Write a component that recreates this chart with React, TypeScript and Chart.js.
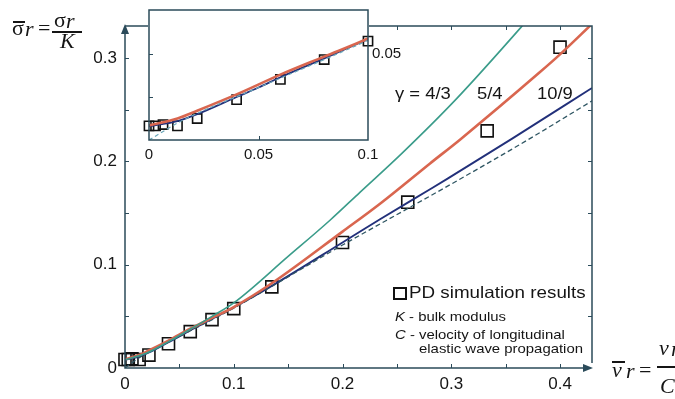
import React, { useEffect, useRef } from "react";
import { Chart, registerables } from "chart.js";

Chart.register(...registerables);

// ---- data ----
const pdX = [0, 0.003, 0.0064, 0.013, 0.022, 0.04, 0.06, 0.08, 0.1, 0.135, 0.2, 0.26, 0.333, 0.4];
const pdY = [0.0082, 0.0082, 0.009, 0.0082, 0.0125, 0.0235, 0.0352, 0.0468, 0.0575, 0.0785, 0.1215, 0.1605, 0.2295, 0.3105];

const green43X = [0, 0.02, 0.04, 0.06, 0.08, 0.1, 0.15, 0.1885, 0.216, 0.2529, 0.3034, 0.366, 0.375];
const green43Y = [0.008, 0.0145, 0.0255, 0.0375, 0.05, 0.063, 0.108, 0.143, 0.17, 0.206, 0.259, 0.332, 0.343];

const red54X = [0, 0.013, 0.022, 0.04, 0.06, 0.08, 0.1, 0.135, 0.2, 0.2345, 0.2805, 0.308, 0.3816, 0.4, 0.4294];
const red54Y = [0.0085, 0.0125, 0.017, 0.0265, 0.038, 0.0485, 0.059, 0.082, 0.132, 0.159, 0.198, 0.221, 0.2864, 0.3035, 0.333];

const blue109X = [0, 0.006, 0.013, 0.022, 0.04, 0.05, 0.06, 0.08, 0.1, 0.135, 0.2, 0.2345, 0.2805, 0.297, 0.356, 0.4294];
const blue109Y = [0.008, 0.0092, 0.011, 0.015, 0.025, 0.0305, 0.0365, 0.0475, 0.0587, 0.0795, 0.1215, 0.144, 0.173, 0.1835, 0.222, 0.271];

const dashedX = [0, 0.015, 0.05, 0.1, 0.2, 0.2645, 0.306, 0.3697, 0.4294];
const dashedY = [0, 0.0112, 0.0305, 0.058, 0.119, 0.157, 0.1816, 0.2204, 0.2585];

const mainXTicks = [0, 0.1, 0.2, 0.3, 0.4];
const mainYTicks = [0, 0.1, 0.2, 0.3];
const mainMinorX = [0.05, 0.1, 0.15, 0.2, 0.25, 0.3, 0.35, 0.4];
const mainMinorY = [0.05, 0.1, 0.15, 0.2, 0.25, 0.3];

const insetXTicks = [0, 0.05, 0.1];
const insetYTicks = [0.05];
const insetMinorX = [0.05];
const insetMinorY = [0.025, 0.05];

// ---- styles ----
const AXIS = "#2b4b5a";
const TXT = "#151515";
const SANS = "'Liberation Sans', Arial, Helvetica, sans-serif";
const SERIF = "'Liberation Serif', 'Times New Roman', serif";
const GREEN = "#3a9c8a";
const RED = "#d9664f";
const BLUE = "#22307a";
const DASH = "#2f5663";

Chart.defaults.font.family = SANS;

const pts = (xs: number[], ys: number[]) => xs.map((x, i) => ({ x, y: ys[i] }));

const lineDs = (xs: number[], ys: number[], color: string, width: number, dash: number[] = []) => ({
  data: pts(xs, ys),
  showLine: true,
  borderColor: color,
  borderWidth: width,
  borderDash: dash,
  pointRadius: 0,
  cubicInterpolationMode: "monotone",
  clip: 0,
});

const squaresDs = (radius: number, maxX: number) => ({
  data: pts(pdX, pdY).filter((p) => p.x <= maxX),
  showLine: false,
  pointStyle: "rect",
  pointRadius: radius,
  pointBorderColor: "#111",
  pointBorderWidth: 1.6,
  pointBackgroundColor: "rgba(0,0,0,0)",
  clip: false,
});

const fixTicks = (vals: number[]) => (s: any) => {
  s.ticks = vals.map((v) => ({ value: v }));
};

const fitX = (h: number) => (s: any) => {
  s.height = h;
  s.paddingLeft = 0;
  s.paddingRight = 0;
};
const fitY = (w: number) => (s: any) => {
  s.width = w;
  s.paddingTop = 0;
  s.paddingBottom = 0;
};

const mainFrame = {
  id: "mainFrame",
  afterDraw(chart: any) {
    const { ctx, chartArea: a, scales } = chart;
    const xs = scales.x;
    const ys = scales.y;
    ctx.save();
    ctx.strokeStyle = AXIS;
    ctx.fillStyle = AXIS;
    ctx.lineWidth = 1.5;
    ctx.beginPath();
    ctx.moveTo(a.left, a.top + 4);
    ctx.lineTo(a.left, a.bottom);
    ctx.lineTo(a.right - 4, a.bottom);
    ctx.moveTo(a.left, a.top);
    ctx.lineTo(a.right, a.top);
    ctx.lineTo(a.right, a.bottom - 5);
    ctx.stroke();
    ctx.lineWidth = 1;
    ctx.beginPath();
    for (const v of mainMinorX) {
      const p = Math.round(xs.getPixelForValue(v)) + 0.5;
      ctx.moveTo(p, a.bottom);
      ctx.lineTo(p, a.bottom - 4);
      ctx.moveTo(p, a.top);
      ctx.lineTo(p, a.top + 4);
    }
    for (const v of mainMinorY) {
      const p = Math.round(ys.getPixelForValue(v)) + 0.5;
      ctx.moveTo(a.left, p);
      ctx.lineTo(a.left + 4, p);
      ctx.moveTo(a.right, p);
      ctx.lineTo(a.right - 4, p);
    }
    ctx.stroke();
    // arrows
    ctx.beginPath();
    ctx.moveTo(a.left, a.top - 2);
    ctx.lineTo(a.left - 4, a.top + 8);
    ctx.lineTo(a.left + 4, a.top + 8);
    ctx.closePath();
    ctx.fill();
    ctx.beginPath();
    ctx.moveTo(a.right + 1, a.bottom);
    ctx.lineTo(a.right - 9, a.bottom - 4);
    ctx.lineTo(a.right - 9, a.bottom + 4);
    ctx.closePath();
    ctx.fill();
    ctx.restore();
  },
};

const insetFrame = {
  id: "insetFrame",
  beforeDatasetsDraw(chart: any) {
    const { ctx, chartArea: a } = chart;
    ctx.save();
    ctx.fillStyle = "#ffffff";
    ctx.fillRect(a.left - 1, a.top - 1, a.right - a.left + 2, a.bottom - a.top + 2);
    ctx.restore();
  },
  afterDraw(chart: any) {
    const { ctx, chartArea: a, scales } = chart;
    ctx.save();
    ctx.strokeStyle = AXIS;
    ctx.lineWidth = 1.5;
    ctx.strokeRect(a.left, a.top, a.right - a.left, a.bottom - a.top);
    ctx.lineWidth = 1;
    ctx.beginPath();
    for (const v of insetMinorX) {
      const p = Math.round(scales.x.getPixelForValue(v)) + 0.5;
      ctx.moveTo(p, a.bottom);
      ctx.lineTo(p, a.bottom - 4);
    }
    for (const v of insetMinorY) {
      const p = Math.round(scales.y.getPixelForValue(v)) + 0.5;
      ctx.moveTo(a.left, p);
      ctx.lineTo(a.left + 4, p);
    }
    ctx.stroke();
    ctx.restore();
  },
};

function mainConfig(): any {
  return {
    type: "scatter",
    data: {
      datasets: [
        lineDs(green43X, green43Y, GREEN, 1.6),
        lineDs(red54X, red54Y, RED, 2.6),
        lineDs(dashedX, dashedY, DASH, 1.3, [5, 3]),
        lineDs(blue109X, blue109Y, BLUE, 1.9),
        squaresDs(8.5, 1),
      ],
    },
    options: {
      responsive: false,
      animation: false,
      devicePixelRatio: 1,
      events: [],
      layout: { padding: { left: 0, top: 26, right: 83, bottom: 0 } },
      plugins: { legend: { display: false }, tooltip: { enabled: false } },
      scales: {
        x: {
          type: "linear",
          min: 0,
          max: 0.4294,
          afterBuildTicks: fixTicks(mainXTicks),
          afterFit: fitX(31),
          grid: { display: false, drawTicks: false },
          border: { display: false },
          ticks: { font: { size: 17 }, color: TXT, padding: 6, maxRotation: 0, autoSkip: false, callback: (v: any) => String(v) },
        },
        y: {
          type: "linear",
          min: 0,
          max: 0.331,
          afterBuildTicks: fixTicks(mainYTicks),
          afterFit: fitY(125),
          grid: { display: false, drawTicks: false },
          border: { display: false },
          ticks: { font: { size: 17 }, color: TXT, padding: 8, autoSkip: false, callback: (v: any) => String(v) },
        },
      },
    },
    plugins: [mainFrame],
  };
}

function insetConfig(): any {
  return {
    type: "scatter",
    data: {
      datasets: [
        lineDs(dashedX, dashedY, "#6aa6b8", 1.2, [4, 3]),
        lineDs(red54X, red54Y, RED, 2.6),
        lineDs(blue109X, blue109Y, BLUE, 1.8),
        squaresDs(6.5, 0.1001),
      ],
    },
    options: {
      responsive: false,
      animation: false,
      devicePixelRatio: 1,
      events: [],
      layout: { padding: { left: 29, top: 10, right: 0, bottom: 0 } },
      plugins: { legend: { display: false }, tooltip: { enabled: false } },
      scales: {
        x: {
          type: "linear",
          min: 0,
          max: 0.1,
          afterBuildTicks: fixTicks(insetXTicks),
          afterFit: fitX(30),
          grid: { display: false, drawTicks: false },
          border: { display: false },
          ticks: { font: { size: 15 }, color: TXT, padding: 6, maxRotation: 0, autoSkip: false, callback: (v: any) => String(v) },
        },
        y: {
          type: "linear",
          position: "right",
          min: 0,
          max: 0.0756,
          afterBuildTicks: fixTicks(insetYTicks),
          afterFit: fitY(42),
          grid: { display: false, drawTicks: false },
          border: { display: false },
          ticks: { font: { size: 15 }, color: TXT, padding: 4, autoSkip: false, callback: (v: any) => String(v) },
        },
      },
    },
    plugins: [insetFrame],
  };
}

type TProps = {
  x: number;
  base: number;
  size: number;
  serif?: boolean;
  italic?: boolean;
  sx?: number;
  children: React.ReactNode;
};

function T({ x, base, size, serif, italic, sx, children }: TProps) {
  const k = serif ? 0.8375 : 0.8465;
  return (
    <div
      style={{
        position: "absolute",
        left: x,
        top: base - k * size,
        fontFamily: serif ? SERIF : SANS,
        fontSize: size,
        lineHeight: 1,
        fontStyle: italic ? "italic" : "normal",
        color: TXT,
        whiteSpace: "nowrap",
        transform: sx ? `scaleX(${sx})` : undefined,
        transformOrigin: "left center",
      }}
    >
      {children}
    </div>
  );
}

function Bar({ x, y, w }: { x: number; y: number; w: number }) {
  return <div style={{ position: "absolute", left: x, top: y, width: w, height: 1.5, background: TXT }} />;
}

export default function App() {
  const mainRef = useRef<HTMLCanvasElement>(null);
  const insetRef = useRef<HTMLCanvasElement>(null);

  useEffect(() => {
    const main = new Chart(mainRef.current as HTMLCanvasElement, mainConfig());
    const inset = new Chart(insetRef.current as HTMLCanvasElement, insetConfig());
    return () => {
      main.destroy();
      inset.destroy();
    };
  }, []);

  return (
    <div
      style={{
        position: "absolute",
        left: 0,
        top: 0,
        width: 675,
        height: 399,
        overflow: "hidden",
        background: "#fff",
      }}
    >
      <canvas
        ref={mainRef}
        width={675}
        height={399}
        style={{ position: "absolute", left: 0, top: 0, width: 675, height: 399 }}
      />
      <canvas
        ref={insetRef}
        width={290}
        height={170}
        style={{ position: "absolute", left: 120, top: 0, width: 290, height: 170 }}
      />

      {/* y-axis title: σ̄r = σr / K */}
      <T x={12} base={35} size={22} serif>σ</T>
      <Bar x={13} y={21} w={12} />
      <T x={25} base={36} size={22} serif italic>r</T>
      <T x={38} base={35} size={22} serif>=</T>
      <T x={54} base={27} size={22} serif>σ</T>
      <T x={66} base={28} size={22} serif italic>r</T>
      <Bar x={52} y={31} w={30} />
      <T x={60} base={48} size={22} serif italic>K</T>

      {/* x-axis title: v̄r = vr / C */}
      <T x={612} base={377} size={22} serif italic>v</T>
      <Bar x={612} y={361} w={13} />
      <T x={626} base={378} size={22} serif italic>r</T>
      <T x={639} base={377} size={22} serif>=</T>
      <T x={659} base={355} size={22} serif italic>v</T>
      <T x={671} base={356} size={22} serif italic>r</T>
      <Bar x={657} y={366} w={30} />
      <T x={660} base={393} size={22} serif italic>C</T>

      {/* curve annotations */}
      <T x={395} base={100} size={16} sx={1.15}>γ = 4/3</T>
      <T x={477} base={100} size={16} sx={1.15}>5/4</T>
      <T x={537} base={100} size={16} sx={1.15}>10/9</T>

      {/* legend */}
      <div
        style={{
          position: "absolute",
          left: 393,
          top: 287,
          width: 10,
          height: 9,
          border: "2px solid #111",
        }}
      />
      <T x={409} base={298} size={16.5} sx={1.14}>PD simulation results</T>
      <T x={395} base={321} size={13} sx={1.146}>
        <i>K</i> - bulk modulus
      </T>
      <T x={395} base={339.5} size={13} sx={1.146}>
        <i>C</i> - velocity of longitudinal
      </T>
      <T x={419} base={353} size={13} sx={1.146}>elastic wave propagation</T>
    </div>
  );
}
